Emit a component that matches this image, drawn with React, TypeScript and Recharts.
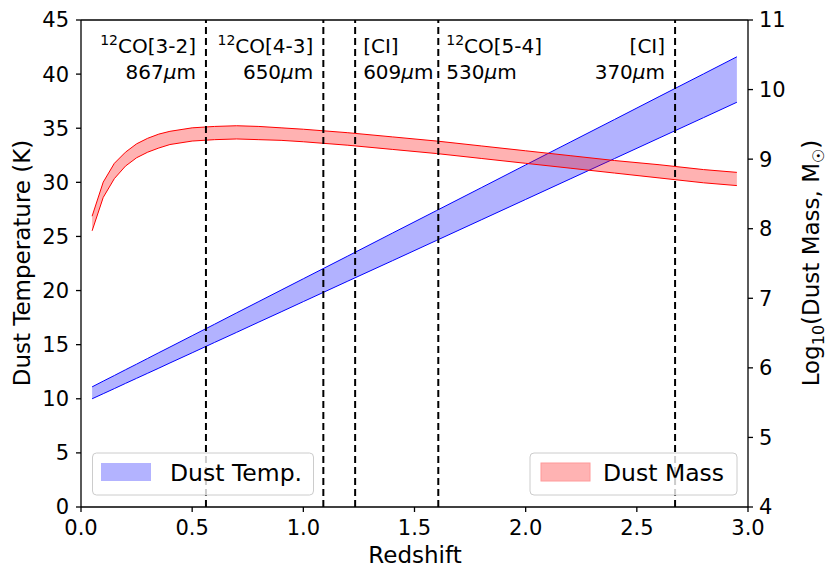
import {
  Area,
  ComposedChart,
  ReferenceLine,
  XAxis,
  YAxis,
} from "recharts"

const FONT = "DejaVu Sans"

// redshift grid
const Z = [0.05, 0.1, 0.15, 0.2, 0.25, 0.3, 0.35, 0.4, 0.5, 0.6, 0.7, 0.8, 0.9, 1.0, 1.2, 1.4, 1.6, 1.8, 2.0, 2.2, 2.4, 2.6, 2.8, 2.95]

// dust temperature band (K)
const TEMP_LO = [10.0, 10.47, 10.94, 11.42, 11.89, 12.36, 12.83, 13.31, 14.25, 15.2, 16.14, 17.09, 18.03, 18.98, 20.87, 22.75, 24.64, 26.53, 28.42, 30.31, 32.2, 34.09, 35.98, 37.4]
const TEMP_HI = [11.1, 11.63, 12.15, 12.68, 13.2, 13.73, 14.26, 14.78, 15.83, 16.88, 17.94, 18.99, 20.04, 21.09, 23.19, 25.3, 27.4, 29.5, 31.61, 33.71, 35.81, 37.92, 40.02, 41.6]

// log10 dust mass band
const MASS_LO = [7.97, 8.45, 8.72, 8.9, 9.02, 9.1, 9.16, 9.21, 9.26, 9.28, 9.29, 9.28, 9.27, 9.25, 9.2, 9.14, 9.08, 9.01, 8.94, 8.87, 8.8, 8.73, 8.66, 8.62]
const MASS_HI = [8.18, 8.67, 8.94, 9.1, 9.22, 9.3, 9.36, 9.4, 9.45, 9.47, 9.48, 9.47, 9.45, 9.43, 9.38, 9.32, 9.26, 9.19, 9.12, 9.05, 8.98, 8.92, 8.85, 8.81]

// line redshifts and labels
const LINE_Z = [0.562, 1.09, 1.233, 1.607, 2.672]
const LINE_SUP = ["12", "12", "", "12", ""]
const LINE_NAME = ["CO[3-2]", "CO[4-3]", "[CI]", "CO[5-4]", "[CI]"]
const LINE_WAVE = ["867", "650", "609", "530", "370"]
const LINE_SIDE = ["left", "left", "right", "right", "left"]

const X_TICKS = [0, 0.5, 1, 1.5, 2, 2.5, 3]
const T_TICKS = [0, 5, 10, 15, 20, 25, 30, 35, 40, 45]
const M_TICKS = [4, 5, 6, 7, 8, 9, 10, 11]

const data = Z.map((z, i) => ({
  z,
  temp: [TEMP_LO[i], TEMP_HI[i]],
  mass: [MASS_LO[i], MASS_HI[i]],
}))

const tick = { fill: "#000", fontSize: 21, fontFamily: FONT }

function LineLabel({ viewBox, idx }: { viewBox?: { x: number; y: number }; idx: number }) {
  if (!viewBox) return null
  const left = LINE_SIDE[idx] === "left"
  const x = left ? viewBox.x - 10 : viewBox.x + 8
  const anchor = left ? "end" : "start"
  return (
    <g fontFamily={FONT} fill="#000">
      <text x={x} y={53} fontSize={20} textAnchor={anchor}>
        {LINE_SUP[idx] && (
          <tspan fontSize={14} dy={-8}>
            {LINE_SUP[idx]}
          </tspan>
        )}
        <tspan dy={LINE_SUP[idx] ? 8 : 0}>{LINE_NAME[idx]}</tspan>
      </text>
      <text x={x} y={79} fontSize={20} textAnchor={anchor}>
        {LINE_WAVE[idx]}
        <tspan fontStyle="italic">μ</tspan>m
      </text>
    </g>
  )
}

export default function App() {
  return (
    <div style={{ position: "absolute", left: 0, top: 0, width: 831, height: 581, background: "#fff" }}>
      <ComposedChart
        width={831}
        height={581}
        data={data}
        margin={{ top: 20, right: 0, bottom: 0, left: 0 }}
        style={{ fontFamily: FONT }}
      >
        <XAxis
          dataKey="z"
          type="number"
          domain={[0, 3]}
          ticks={X_TICKS}
          tickFormatter={(v: number) => v.toFixed(1)}
          height={74}
          tick={tick}
          tickSize={5}
          tickMargin={8}
          stroke="#000"
          strokeWidth={1.3}
          allowDataOverflow
        />
        <YAxis
          yAxisId="t"
          domain={[0, 45]}
          ticks={T_TICKS}
          width={81}
          tick={tick}
          tickSize={5}
          tickMargin={7}
          stroke="#000"
          strokeWidth={1.3}
          allowDataOverflow
        />
        <YAxis
          yAxisId="m"
          orientation="right"
          domain={[4, 11]}
          ticks={M_TICKS}
          width={83}
          tick={tick}
          tickSize={5}
          tickMargin={6}
          stroke="#000"
          strokeWidth={1.3}
          allowDataOverflow
        />
        <Area
          yAxisId="t"
          dataKey="temp"
          type="linear"
          fill="#0000ff"
          fillOpacity={0.3}
          stroke="#0000ff"
          strokeWidth={1}
          isAnimationActive={false}
          dot={false}
          activeDot={false}
        />
        <Area
          yAxisId="m"
          dataKey="mass"
          type="linear"
          fill="#ff0000"
          fillOpacity={0.3}
          stroke="#ff0000"
          strokeWidth={1}
          isAnimationActive={false}
          dot={false}
          activeDot={false}
        />
        {LINE_Z.map((z, i) => (
          <ReferenceLine
            key={i}
            yAxisId="t"
            x={z}
            stroke="#000"
            strokeWidth={2}
            strokeDasharray="7 4"
            label={(p: any) => <LineLabel {...p} idx={i} />}
          />
        ))}
        <ReferenceLine yAxisId="t" y={45} stroke="#000" strokeWidth={1.3} />
      </ComposedChart>
      <svg
        width={831}
        height={581}
        style={{ position: "absolute", left: 0, top: 0, pointerEvents: "none" }}
        fontFamily={FONT}
      >
        <text x={415} y={563} fontSize={23} textAnchor="middle">
          Redshift
        </text>
        <text transform="translate(30,263) rotate(-90)" fontSize={23} textAnchor="middle">
          Dust Temperature (K)
        </text>
        <text transform="translate(819,263) rotate(-90)" fontSize={23} textAnchor="middle">
          Log
          <tspan fontSize={16} dy={5}>10</tspan>
          <tspan dy={-5}>(Dust Mass, M</tspan>
          <tspan fontSize={16} dy={5}>☉</tspan>
          <tspan dy={-5}>)</tspan>
        </text>
        <rect x={92.5} y={453} width={221} height={42} rx={4} fill="#fff" fillOpacity={0.8} stroke="#ccc" />
        <rect x={101} y={463} width={50} height={18} fill="#b3b3ff" />
        <text x={170} y={481} fontSize={23.5}>
          Dust Temp.
        </text>
        <rect x={530} y={453} width={207} height={42} rx={4} fill="#fff" fillOpacity={0.8} stroke="#ccc" />
        <rect x={541} y={463} width={49} height={18} fill="#ffb3b3" stroke="#ff9a9a" />
        <text x={603} y={481} fontSize={23.5}>
          Dust Mass
        </text>
      </svg>
    </div>
  )
}
